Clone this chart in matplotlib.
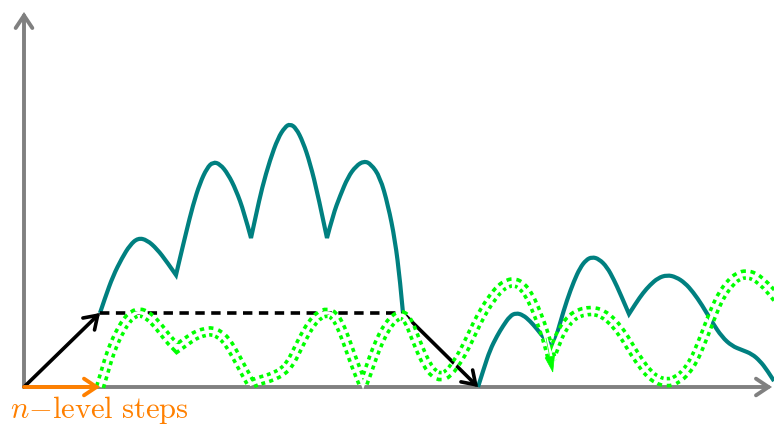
import matplotlib
matplotlib.use('Agg')
import matplotlib.pyplot as plt
from matplotlib.patches import FancyArrowPatch, PathPatch
from matplotlib.path import Path

plt.rcParams['mathtext.fontset'] = 'cm'

# units: x = distance from the vertical axis, y = height above the horizontal axis
teal1_x = [76, 81, 89, 98, 106, 114, 123, 133, 143, 152,
           156, 162, 169, 176, 183, 189, 196, 204, 212, 220, 227,
           232, 238, 246, 254, 261, 266, 272, 279, 286, 294, 303,
           309, 316, 324, 332, 340, 347, 356, 364, 371, 376, 379]
teal1_y = [74, 89, 111, 129, 142, 149, 147, 138, 125, 112,
           129, 154, 182, 204, 219, 225, 223, 213, 197, 175, 149,
           172, 199, 227, 249, 260, 263, 259, 245, 224, 192, 149,
           172, 191, 210, 221, 226, 223, 210, 182, 147, 107, 74]
teal1_cusps = [9, 20, 31]

teal2_x = [454, 460, 466, 473, 479, 486, 492, 499, 506, 513, 520, 529,
           536, 543, 550, 556, 562, 568, 575, 583, 590, 596, 605,
           612, 619, 626, 634, 643, 652, 661, 669, 678, 688, 698, 708,
           718, 728, 736, 743, 750]
teal2_y = [0, 19, 37, 51, 61, 71, 74, 72, 66, 58, 49, 39,
           64, 87, 106, 119, 127, 130, 128, 120, 107, 94, 73,
           84, 94, 102, 109, 112, 110, 104, 95, 82, 65, 50, 41,
           37, 33, 26, 17, 6]
teal2_cusps = [11, 22]

green1_x = [76, 80, 84, 89, 95, 102, 109, 116, 123, 131, 139, 146, 153,
            160, 167, 174, 181, 188, 195, 202, 209, 216, 222, 227,
            234, 242, 250, 258, 266, 273, 280, 287, 295, 303, 310, 316,
            322, 328, 334, 339, 344, 349, 355, 362, 370, 378, 384, 390,
            396, 403, 410, 417, 424, 431, 438, 445, 452, 460, 468, 476,
            484, 491, 498, 505, 511, 517, 522, 526, 528]
green1_y = [0, 13, 27, 41, 54, 66, 73, 75, 72, 65, 55, 46, 39,
            44, 49, 53, 55, 56, 53, 47, 36, 23, 12, 3,
            6, 8, 11, 15, 23, 37, 51, 63, 72, 75, 72, 62,
            47, 30, 14, 2, 15, 30, 45, 59, 69, 73, 67, 52,
            37, 22, 13, 10, 13, 22, 33, 47, 62, 77, 89, 99,
            104, 105, 101, 92, 79, 64, 49, 35, 26]
green1_cusps = [12, 23, 39]
green1_tip = (529, 14)

green2_x = [529, 534, 540, 547, 555, 563, 571, 579, 587, 594, 601, 608,
            616, 624, 633, 643, 653, 662, 670, 677, 684, 691, 698, 706,
            714, 722, 730, 738, 746, 754]
green2_y = [35, 49, 60, 69, 74, 76, 76, 73, 67, 59, 49, 37,
            25, 14, 7, 4, 7, 15, 27, 43, 61, 79, 93, 104,
            111, 113, 111, 105, 97, 87]
green2_cusps = []

step_x = [0, 76, 379, 454]
step_y = [0, 74, 74, 0]

TEAL = '#008080'
GREEN = '#00ff00'
GREY = '#808080'
ORANGE = '#ff8000'

fig = plt.figure(figsize=(7.74, 4.28), dpi=100)
ax = fig.add_axes([0, 0, 1, 1])
ax.set_xlim(-24, 750)
ax.set_ylim(-41, 387)
ax.axis('off')


def smooth_path(xs, ys, cusps):
    # quadratic bezier pieces through the read points, sharp at the cusps
    pts = list(zip(xs, ys))
    cuts = [0] + list(cusps) + [len(pts) - 1]
    verts = [pts[0]]
    codes = [Path.MOVETO]
    for a, b in zip(cuts[:-1], cuts[1:]):
        seg = pts[a:b + 1]
        if len(seg) < 3:
            verts.append(seg[-1])
            codes.append(Path.LINETO)
            continue
        for j in range(1, len(seg) - 2):
            mid = ((seg[j][0] + seg[j + 1][0]) / 2, (seg[j][1] + seg[j + 1][1]) / 2)
            verts += [seg[j], mid]
            codes += [Path.CURVE3, Path.CURVE3]
        verts += [seg[-2], seg[-1]]
        codes += [Path.CURVE3, Path.CURVE3]
    return Path(verts, codes)


def curve(xs, ys, cusps, z, **kw):
    p = PathPatch(smooth_path(xs, ys, cusps), fill=False, zorder=z, **kw)
    ax.add_patch(p)


def arrow(p0, p1, color, lw, z, style='->', hl=0.45, hw=0.3):
    a = FancyArrowPatch(p0, p1, arrowstyle=f'{style},head_length={hl},head_width={hw}',
                        mutation_scale=20, color=color, lw=lw, zorder=z,
                        shrinkA=0, shrinkB=0, capstyle='round', joinstyle='miter')
    ax.add_patch(a)


# axes
arrow((0, 0), (0, 375), GREY, 2.8, 1)
arrow((0, 0), (748, 0), GREY, 2.8, 1)

# teal curves
curve(teal1_x, teal1_y, teal1_cusps, 3, edgecolor=TEAL, lw=3.0, joinstyle='miter')
curve(teal2_x, teal2_y, teal2_cusps, 3, edgecolor=TEAL, lw=3.0, joinstyle='miter')

# black step arrows and dashed level
arrow((step_x[0], step_y[0]), (step_x[1], step_y[1]), 'black', 2.6, 4)
ax.plot(step_x[1:3], step_y[1:3], color='black', lw=2.6, ls=(0, (2.6, 1.8)), zorder=4)
arrow((step_x[2], step_y[2]), (step_x[3], step_y[3]), 'black', 2.6, 4)

# green double dotted curves
for gx, gy, gc in [(green1_x, green1_y, green1_cusps), (green2_x, green2_y, green2_cusps)]:
    curve(gx, gy, gc, 5, edgecolor=GREEN, lw=7.6, linestyle=(0, (0.38, 0.38)),
          capstyle='butt')
    curve(gx, gy, gc, 5.1, edgecolor='white', lw=2.4)
arrow((green1_x[-3], green1_y[-3]), green1_tip, GREEN, 0.5, 5.2,
      style='-|>', hl=0.55, hw=0.17)

# orange step
arrow((0, 0), (76, 0), ORANGE, 2.8, 6)
ax.text(75, -23, r'$n{-}\mathrm{level\ steps}$', color=ORANGE, fontsize=22,
        ha='center', va='center')

fig.savefig('out.png', dpi=100)
